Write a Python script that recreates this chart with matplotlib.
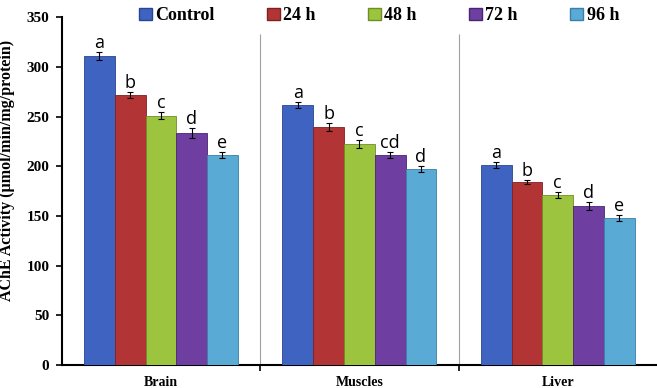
import numpy as np
import matplotlib
matplotlib.use('Agg')
import matplotlib.pyplot as plt
from matplotlib.patches import Patch

tissues = ['Brain', 'Muscles', 'Liver']
groups = ['Control', '24 h', '48 h', '72 h', '96 h']
values = {
    'Control': [311, 262, 201],
    '24 h': [272, 239, 184],
    '48 h': [251, 222, 171],
    '72 h': [233, 211, 160],
    '96 h': [211, 197, 148],
}
errors = {
    'Control': [4, 3, 3],
    '24 h': [3, 4, 2],
    '48 h': [4, 4, 3],
    '72 h': [5, 3, 4],
    '96 h': [3, 3, 3],
}
letters = {
    'Control': ['a', 'a', 'a'],
    '24 h': ['b', 'b', 'b'],
    '48 h': ['c', 'c', 'c'],
    '72 h': ['d', 'cd', 'd'],
    '96 h': ['e', 'd', 'e'],
}
colors = ['#3F63C0', '#B23434', '#9DC43F', '#6E3FA0', '#5AAAD6']
edges = ['#2A4590', '#7E2020', '#6E8E25', '#4A2670', '#3A7FA8']

fig = plt.figure(figsize=(6.57, 3.88), dpi=100)
ax = fig.add_axes([0.094, 0.059, 0.906, 0.897])

x = np.arange(len(tissues))
w = 0.155
for i, g in enumerate(groups):
    pos = x + (i - 2) * w
    ax.bar(pos, values[g], width=w, color=colors[i], edgecolor=edges[i],
           linewidth=0.6, zorder=3)
    ax.errorbar(pos, values[g], yerr=errors[g], fmt='none', ecolor='black',
                elinewidth=0.8, capsize=2.5, capthick=0.8, zorder=4)
    for p, v, e, t in zip(pos, values[g], errors[g], letters[g]):
        ax.text(p, v + e, t, ha='center', va='bottom', fontsize=13,
                family='Open Sans', zorder=5)

# separators between tissue groups
ax.vlines([0.5, 1.5], 0, 333, color='#A0A0A0', linewidth=0.8, zorder=1)

ax.set_xlim(-0.5, 2.5)
ax.set_ylim(0, 350)
ax.set_yticks(range(0, 351, 50))
ax.set_xticks(x)
ax.set_xticklabels(tissues)
ax.set_xticks([0.5, 1.5], minor=True)
ax.tick_params(axis='x', which='major', length=0, pad=8)
ax.tick_params(axis='x', which='minor', length=4, width=1.2, direction='out')
ax.tick_params(axis='y', length=4, width=1.2, direction='out', pad=5)
for lab in ax.get_xticklabels():
    lab.set_family('Liberation Serif')
    lab.set_fontweight('bold')
    lab.set_fontsize(10)
for lab in ax.get_yticklabels():
    lab.set_family('Liberation Serif')
    lab.set_fontweight('bold')
    lab.set_fontsize(11)

ax.spines['top'].set_visible(False)
ax.spines['right'].set_visible(False)
ax.spines['left'].set_linewidth(1.5)
ax.spines['bottom'].set_linewidth(1.5)

ax.set_ylabel('AChE Activity (\u00b5mol/min/mg/protein)', family='Liberation Serif',
              fontweight='bold', fontsize=11.5)
ax.yaxis.set_label_coords(-0.079, 0.56)

handles = [Patch(facecolor=colors[i], edgecolor=edges[i]) for i in range(5)]
ax.legend(handles, groups, loc='upper center', bbox_to_anchor=(0.533, 1.075),
          ncol=5, frameon=False, handlelength=0.7, handleheight=0.7,
          handletextpad=0.2, columnspacing=2.9,
          prop={'family': 'Liberation Serif', 'weight': 'bold', 'size': 13})

fig.savefig('out.png', dpi=100)
